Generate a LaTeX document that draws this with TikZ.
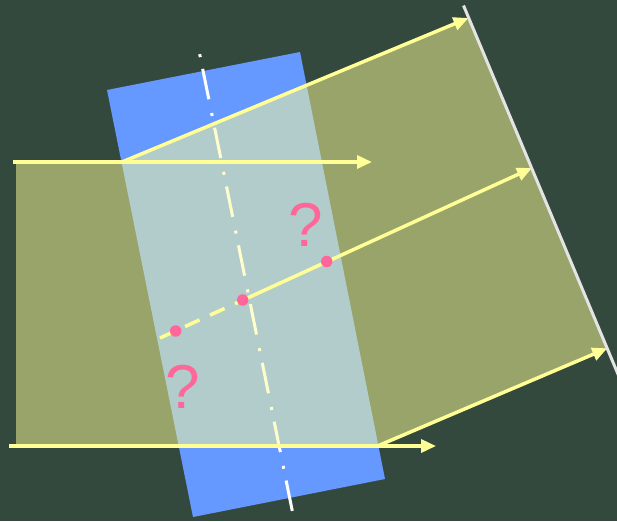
\documentclass[tikz,border=0pt]{standalone}
\usepackage{fontspec}
\setmainfont{Liberation Sans}
\usetikzlibrary{arrows.meta}
\definecolor{board}{RGB}{52,73,62}
\definecolor{slabblue}{RGB}{102,153,255}
\definecolor{ray}{RGB}{255,255,150}
\definecolor{bandcol}{RGB}{255,255,152}
\definecolor{pinkc}{RGB}{255,102,153}
\definecolor{wavec}{RGB}{228,228,228}
\tikzset{
  rayline/.style={draw=ray, line width=3.5pt},
  rayarrow/.style={rayline, -{Triangle[length=15pt,width=13pt]}},
  axisline/.style={draw=white, line width=3pt, dash pattern=on 3pt off 12pt on 31pt off 14pt},
  dotmark/.style={circle, fill=pinkc, inner sep=0pt, minimum size=11.5pt},
  qmark/.style={inner sep=0pt, text=pinkc, font=\fontsize{62}{62}\selectfont}
}
\begin{document}
\begin{tikzpicture}[x=1pt,y=-1pt]
\useasboundingbox (0,0) rectangle (617,521);
\clip (0,0) rectangle (617,521);
\fill[board] (0,0) rectangle (617,521);
% slab
\coordinate (s1) at (107,90);
\coordinate (s2) at (300,52);
\coordinate (s3) at (385,479);
\coordinate (s4) at (193,517);
\fill[slabblue] (s1) -- (s2) -- (s3) -- (s4) -- cycle;
% axis
\coordinate (ax1) at (199.7,54.2);
\coordinate (ax2) at (292.5,512);
\draw[axisline] (ax1) -- (ax2);
% band points
\coordinate (b1) at (16,162);
\coordinate (b2) at (122,162);
\coordinate (b3) at (468.5,18);
\coordinate (b4) at (607.3,348.3);
\coordinate (b5) at (377.5,446);
\coordinate (b6) at (16,446);
\fill[bandcol, fill opacity=0.5] (b1) -- (b2) -- (b3) -- (b4) -- (b5) -- (b6) -- cycle;
% rays
\coordinate (t0) at (13,162);
\coordinate (t1) at (372,162);
\coordinate (u0) at (9,446);
\coordinate (u1) at (436,446);
\draw[rayarrow] (t0) -- (t1);
\draw[rayarrow] (u0) -- (u1);
\draw[rayarrow] (b2) -- (b3);
\draw[rayarrow] (b5) -- (b4);
% middle ray
\coordinate (m0) at (160,338);
\coordinate (m2) at (242.7,300.2);
\coordinate (m4) at (532,168);
\draw[rayline, dash pattern=on 16pt off 11.5pt] (m0) -- (m2);
\draw[rayarrow] (m2) -- (m4);
% wavefront
\coordinate (w0) at (463.5,5.5);
\coordinate (w1) at (633,410);
\draw[wavec, line width=3pt] (w0) -- (w1);
% dots
\node[dotmark] (d1) at (175.7,331) {};
\node[dotmark] (d2) at (242.7,300) {};
\node[dotmark] (d3) at (326.7,261.5) {};
% question marks
\node[qmark] (q1) at (306,224.5) {?};
\node[qmark] (q2) at (183,387) {?};
\end{tikzpicture}
\end{document}
